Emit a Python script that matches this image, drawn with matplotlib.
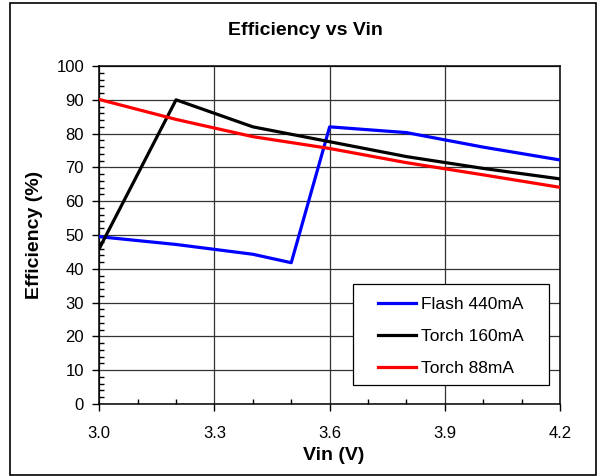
import matplotlib
matplotlib.use("Agg")
import matplotlib.pyplot as plt
from matplotlib.patches import Rectangle
from matplotlib.ticker import MultipleLocator

plt.rcParams.update({"font.family": "Liberation Sans", "font.size": 12})

# data
vin_flash = [3.0, 3.2, 3.4, 3.5, 3.6, 3.8, 4.0, 4.2]
eff_flash = [49.5, 47.2, 44.3, 41.8, 82.0, 80.3, 76.0, 72.2]
vin_torch = [3.0, 3.2, 3.4, 3.6, 3.8, 4.0, 4.2]
eff_torch160 = [46.0, 90.0, 82.0, 77.6, 73.2, 69.7, 66.6]
eff_torch88 = [90.1, 84.2, 79.1, 75.6, 71.4, 67.8, 64.1]
xticks = [3.0, 3.3, 3.6, 3.9, 4.2]

fig = plt.figure(figsize=(6.01, 4.76), dpi=100)
ax = fig.add_axes([0.1652, 0.1513, 0.7666, 0.71])

ax.plot(vin_flash, eff_flash, color="#0000ff", lw=2.3, label="Flash 440mA", zorder=3)
ax.plot(vin_torch, eff_torch160, color="black", lw=2.3, label="Torch 160mA", zorder=3)
ax.plot(vin_torch, eff_torch88, color="#ff0000", lw=2.3, label="Torch 88mA", zorder=3)

ax.set_xlim(3.0, 4.2)
ax.set_ylim(0, 100)
ax.set_xticks(xticks)
ax.set_xticklabels([f"{v:.1f}" for v in xticks])
ax.xaxis.set_minor_locator(MultipleLocator(0.1))
ax.yaxis.set_major_locator(MultipleLocator(10))
ax.yaxis.set_minor_locator(MultipleLocator(2))
ax.tick_params(which="major", direction="out", length=5, width=1)
ax.tick_params(which="minor", direction="in", length=3.5, width=1)
ax.tick_params(axis="x", which="major", pad=11)
ax.tick_params(axis="y", which="major", pad=6)
ax.grid(True, which="major", color="#333333", lw=0.9)
for s in ax.spines.values():
    s.set_linewidth(1.1)

ax.set_xlabel("Vin (V)", fontweight="bold", fontsize=14)
ax.xaxis.set_label_coords(0.509, -0.128)
ax.set_ylabel("Efficiency (%)", fontweight="bold", fontsize=14)
ax.yaxis.set_label_coords(-0.122, 0.5)

fig.text(0.508, 0.935, "Efficiency vs Vin", ha="center", va="center",
         fontweight="bold", fontsize=14)

# legend entries without frame, box drawn separately (wider side padding)
ax.legend(loc="upper left", bbox_to_anchor=(0.605, 0.316), fontsize=12.5,
          handlelength=2.18, handletextpad=0.29, labelspacing=0.97,
          borderpad=0, borderaxespad=0, frameon=False)
ax.add_patch(Rectangle((0.5507, 0.0562), 0.4253, 0.2988, transform=ax.transAxes,
                       facecolor="white", edgecolor="black", lw=0.9, zorder=4))
ax.get_legend().set_zorder(5)

fig.patches.append(Rectangle((0.0166, 0.0021), 0.975, 0.9916, transform=fig.transFigure,
                             fill=False, edgecolor="black", lw=1.2))

fig.savefig("out.png", dpi=100)
